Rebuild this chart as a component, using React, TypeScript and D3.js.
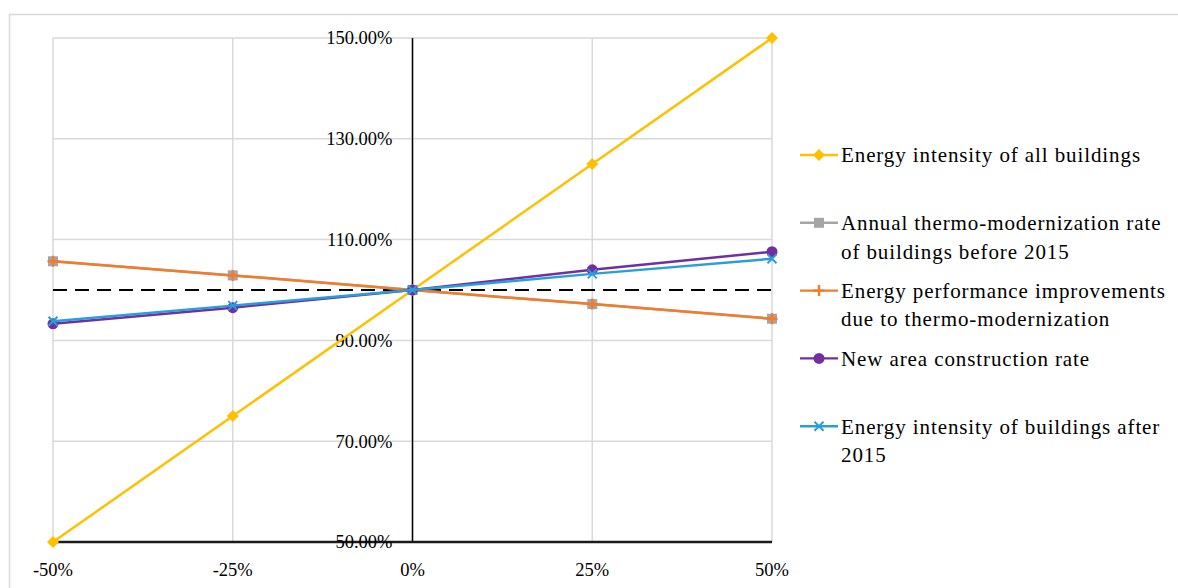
import React from "react";
import * as d3 from "d3";

// Sensitivity of the parameter changes (x) against the relative result (y, %)
const changes = [-0.5, -0.25, 0, 0.25, 0.5];
const allBuildings = [50, 75, 100, 125, 150];
const thermoRate = [105.7, 102.9, 100, 97.2, 94.3];
const performanceGain = [105.7, 102.9, 100, 97.2, 94.3];
const newArea = [93.3, 96.5, 100, 104.0, 107.6];
const after2015 = [93.8, 96.9, 100, 103.2, 106.2];
const baseline = [100, 100, 100, 100, 100];

const yTicks = [50, 70, 90, 110, 130, 150];
const xTicks = [-0.5, -0.25, 0, 0.25, 0.5];

type Marker = "diamond" | "square" | "plus" | "circle" | "cross";

const seriesNames = [
  ["Energy intensity of all buildings"],
  ["Annual thermo-modernization rate", "of buildings before 2015"],
  ["Energy performance improvements", "due to thermo-modernization"],
  ["New area construction rate"],
  ["Energy intensity of buildings after", "2015"],
];
const seriesValues = [allBuildings, thermoRate, performanceGain, newArea, after2015];
const seriesColors = ["#FFC000", "#A5A5A5", "#F47B2A", "#7030A0", "#2A9DDB"];
const seriesMarkers: Marker[] = ["diamond", "square", "plus", "circle", "cross"];

const W = 1178;
const H = 588;
const font = "'Liberation Serif', 'Times New Roman', serif";

function MarkerShape({ type, x, y, color }: { type: Marker; x: number; y: number; color: string }) {
  switch (type) {
    case "diamond":
      return <path d={`M${x},${y - 6}L${x + 6},${y}L${x},${y + 6}L${x - 6},${y}Z`} fill={color} />;
    case "square":
      return <rect x={x - 5} y={y - 5} width={10} height={10} fill={color} />;
    case "plus":
      return (
        <path d={`M${x - 5.5},${y}H${x + 5.5}M${x},${y - 5.5}V${y + 5.5}`} stroke={color} strokeWidth={2.4} fill="none" />
      );
    case "circle":
      return <circle cx={x} cy={y} r={5.5} fill={color} />;
    case "cross":
      return (
        <path
          d={`M${x - 4.5},${y - 4.5}L${x + 4.5},${y + 4.5}M${x - 4.5},${y + 4.5}L${x + 4.5},${y - 4.5}`}
          stroke={color}
          strokeWidth={2}
          fill="none"
        />
      );
  }
}

const pctTick = (t: number) => d3.format(".0%")(t).replace("\u2212", "-");

export default function App() {
  const x = d3.scaleLinear().domain([-0.5, 0.5]).range([53, 772]);
  const y = d3.scaleLinear().domain([50, 150]).range([542, 38]);
  const line = d3
    .line<number>()
    .x((_, i) => x(changes[i]))
    .y((v) => y(v));

  const legendX = 800;
  const legendTop = 155;
  const legendStep = 67.8;
  const lineHeight = 28.5;

  return (
    <svg
      width={W}
      height={H}
      style={{ position: "absolute", left: 0, top: 0, background: "#fff" }}
      fontFamily={font}
    >
      <rect x={9.5} y={14.5} width={W} height={H} fill="none" stroke="#D9D9D9" strokeWidth={1.5} />

      {/* gridlines */}
      {yTicks.map((t) => (
        <line key={"gy" + t} x1={x(-0.5)} x2={x(0.5)} y1={y(t)} y2={y(t)} stroke="#D9D9D9" strokeWidth={1.5} />
      ))}
      {xTicks.map((t) => (
        <line key={"gx" + t} x1={x(t)} x2={x(t)} y1={y(150)} y2={y(50)} stroke="#D9D9D9" strokeWidth={1.5} />
      ))}

      {/* axes */}
      <line x1={x(0)} x2={x(0)} y1={y(150)} y2={y(50)} stroke="#000" strokeWidth={1.5} />
      <line x1={x(-0.5)} x2={x(0.5)} y1={y(50)} y2={y(50)} stroke="#1a1a1a" strokeWidth={2.5} />

      {/* 100% reference */}
      <path d={line(baseline) ?? ""} fill="none" stroke="#000" strokeWidth={1.8} strokeDasharray="14 8" />

      {/* y tick labels */}
      {yTicks.map((t) => (
        <text key={"ly" + t} x={x(0) - 20} y={y(t)} dy="0.35em" textAnchor="end" fontSize={18.5} fill="#000">
          {d3.format(".2f")(t) + "%"}
        </text>
      ))}
      {/* x tick labels */}
      {xTicks.map((t) => (
        <text key={"lx" + t} x={x(t)} y={576} textAnchor="middle" fontSize={18.5} fill="#000">
          {pctTick(t)}
        </text>
      ))}

      {/* series */}
      {seriesValues.map((vals, si) => (
        <g key={"s" + si}>
          <path d={line(vals) ?? ""} fill="none" stroke={seriesColors[si]} strokeWidth={2.5} />
          {vals.map((v, i) => (
            <MarkerShape key={i} type={seriesMarkers[si]} x={x(changes[i])} y={y(v)} color={seriesColors[si]} />
          ))}
        </g>
      ))}

      {/* legend */}
      {seriesNames.map((lines, si) => {
        const ly = legendTop + si * legendStep;
        return (
          <g key={"lg" + si}>
            <line x1={legendX} x2={legendX + 38} y1={ly} y2={ly} stroke={seriesColors[si]} strokeWidth={2.4} />
            <MarkerShape type={seriesMarkers[si]} x={legendX + 19} y={ly} color={seriesColors[si]} />
            {lines.map((t, li) => (
              <text
                key={li}
                x={legendX + 41}
                y={ly + li * lineHeight}
                dy="0.35em"
                fontSize={21}
                letterSpacing={0.9}
                fill="#000"
              >
                {t}
              </text>
            ))}
          </g>
        );
      })}
    </svg>
  );
}
